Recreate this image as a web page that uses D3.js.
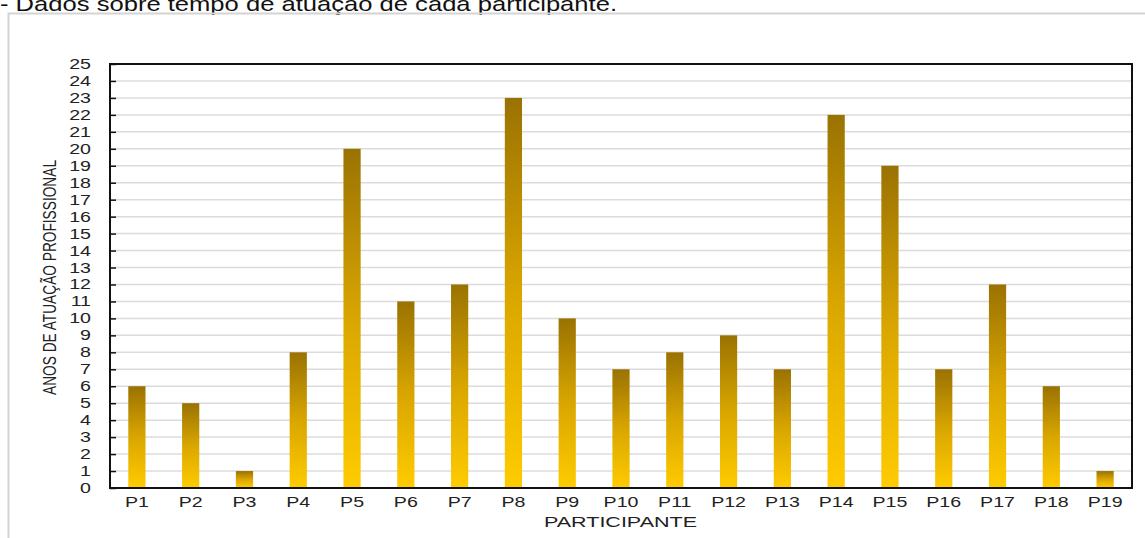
<!DOCTYPE html>
<html>
<head>
<meta charset="utf-8">
<script src="https://cdn.jsdelivr.net/npm/d3@7"></script>
<style>
  body { margin: 0; background: #fff; }
  svg { display: block; font-family: Arial, "Liberation Sans", sans-serif; }
</style>
</head>
<body>
<div id="chart"></div>
<script>
// data
var participants = ["P1","P2","P3","P4","P5","P6","P7","P8","P9","P10",
                    "P11","P12","P13","P14","P15","P16","P17","P18","P19"];
var years = [6,5,1,8,20,11,12,23,10,7,8,9,7,22,19,7,12,6,1];
var yTicks = d3.range(0, 26);

var W = 1145, H = 538;
var margin = { top: 64, right: 13, bottom: 50, left: 110 };
var width = W - margin.left - margin.right,
    height = H - margin.top - margin.bottom;
var stretch = 1.4; // text in the original is widened

var svg = d3.select("#chart").append("svg")
  .attr("width", W).attr("height", H);

// title (cut at top in the original)
svg.append("text")
  .attr("x", 0).attr("y", 11)
  .attr("textLength", 617)
  .attr("lengthAdjust", "spacingAndGlyphs")
  .style("font-size", "21px")
  .attr("fill", "#111")
  .text("- Dados sobre tempo de atuação de cada participante.");

// outer light frame
svg.append("path")
  .attr("d", "M8.5," + H + " V13.5 H" + W)
  .attr("fill", "none")
  .attr("stroke", "#d4d4d4")
  .attr("stroke-width", 2);

var grad = svg.append("defs").append("linearGradient")
  .attr("id", "barGrad")
  .attr("x1", 0).attr("y1", 0).attr("x2", 0).attr("y2", 1);
grad.append("stop").attr("offset", "0%").attr("stop-color", "#9a7202");
grad.append("stop").attr("offset", "50%").attr("stop-color", "#d9a600");
grad.append("stop").attr("offset", "100%").attr("stop-color", "#ffcb00");

var g = svg.append("g")
  .attr("transform", "translate(" + margin.left + "," + margin.top + ")");

var x = d3.scaleBand()
  .domain(participants)
  .range([0, width])
  .paddingInner(0.68)
  .paddingOuter(0.34);

var y = d3.scaleLinear()
  .domain([0, 25])
  .range([height, 0]);

// grid lines
g.append("g")
  .selectAll("line")
  .data(yTicks.slice(1, -1))
  .enter().append("line")
  .attr("x1", 0).attr("x2", width)
  .attr("y1", d => y(d)).attr("y2", d => y(d))
  .attr("stroke", "#dcdcdc")
  .attr("stroke-width", 1.5);

// bars
g.append("g")
  .selectAll("rect")
  .data(years)
  .enter().append("rect")
  .attr("x", (d, i) => x(participants[i]))
  .attr("y", d => y(d))
  .attr("width", x.bandwidth())
  .attr("height", d => y(0) - y(d))
  .attr("fill", "url(#barGrad)");

// y axis with inward ticks
var yAxis = g.append("g")
  .call(d3.axisLeft(y).tickValues(yTicks).tickSize(-6).tickPadding(19).tickSizeOuter(0));
yAxis.select(".domain").remove();
yAxis.selectAll(".tick line").attr("stroke", "#111").attr("stroke-width", 1.5);
yAxis.selectAll("text")
  .style("font-size", "14px")
  .style("font-family", "Arial, 'Liberation Sans', sans-serif")
  .attr("fill", "#222")
  .attr("x", -19 / stretch)
  .attr("transform", "scale(" + stretch + ",1)");

// x axis labels
var xAxis = g.append("g")
  .attr("transform", "translate(0," + height + ")")
  .call(d3.axisBottom(x).tickSize(0).tickPadding(9));
xAxis.select(".domain").remove();
xAxis.selectAll("text")
  .style("font-size", "14px")
  .style("font-family", "Arial, 'Liberation Sans', sans-serif")
  .attr("fill", "#222")
  .attr("transform", "scale(" + stretch + ",1)");

// plot frame
g.append("rect")
  .attr("x", 0).attr("y", 0)
  .attr("width", width).attr("height", height)
  .attr("fill", "none")
  .attr("stroke", "#111")
  .attr("stroke-width", 2);

// axis titles
svg.append("text")
  .attr("x", 544)
  .attr("y", 527)
  .attr("textLength", 153)
  .attr("lengthAdjust", "spacingAndGlyphs")
  .style("font-size", "15px")
  .attr("fill", "#222")
  .text("PARTICIPANTE");

svg.append("text")
  .attr("transform", "translate(56,395) rotate(-90)")
  .attr("textLength", 235)
  .attr("lengthAdjust", "spacingAndGlyphs")
  .style("font-size", "18px")
  .attr("fill", "#222")
  .text("ANOS DE ATUAÇÃO PROFISSIONAL");
</script>
</body>
</html>
